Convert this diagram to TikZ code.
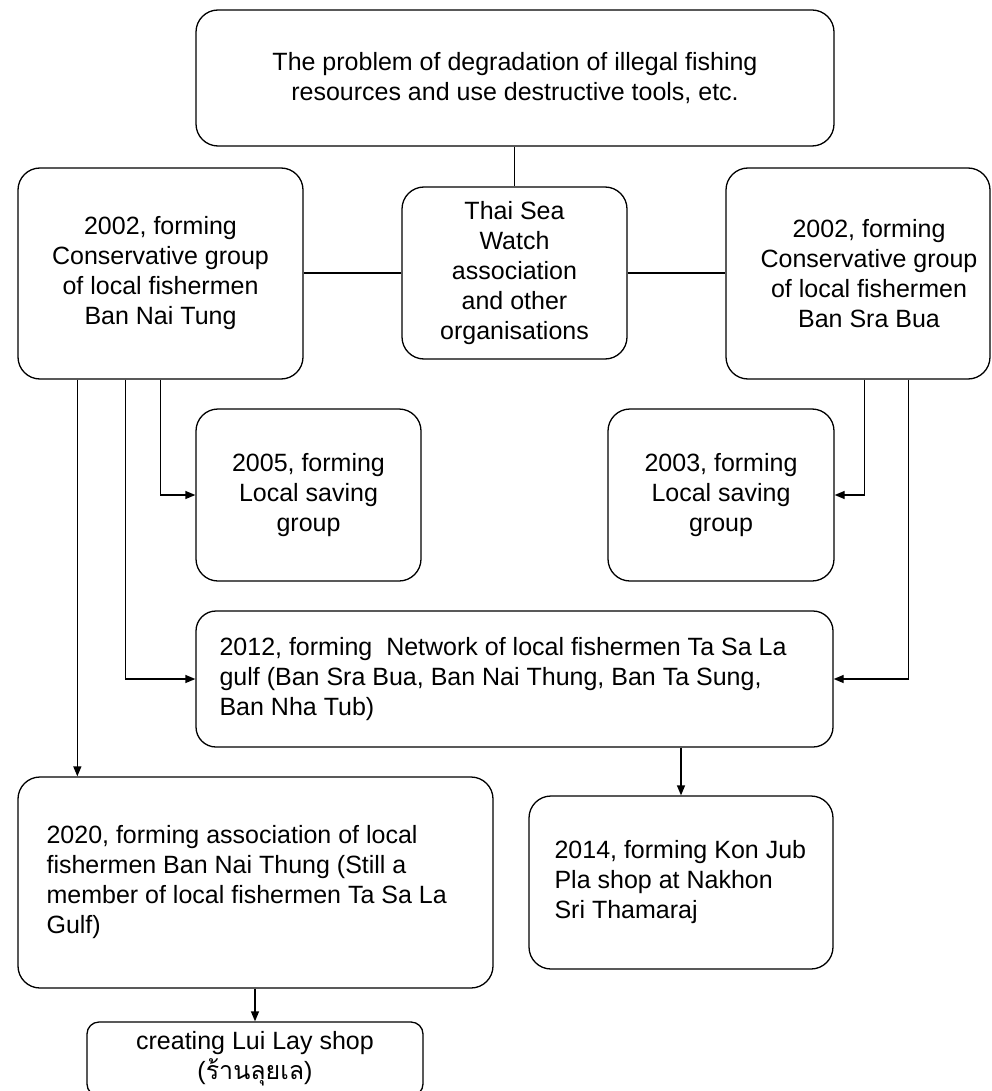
\documentclass[tikz,border=0pt]{standalone}
\usepackage{fontspec}
\setmainfont{Liberation Sans}
\newfontfamily\thaifont[Script=Thai]{Loma}
\usetikzlibrary{arrows.meta,calc}
\tikzset{
  box/.style={draw, line width=1.3pt, rounded corners=22pt, inner sep=0pt, align=center,
              font=\fontsize{25}{30}\selectfont},
  txt/.style={inner sep=0pt, align=left, font=\fontsize{25}{30}\selectfont},
  link/.style={line width=1.3pt},
  arr/.style={line width=1.3pt, -{Triangle[length=10pt,width=8pt]}},
}
\begin{document}
\begin{tikzpicture}[x=1pt,y=-1pt]
\useasboundingbox (0,0) rectangle (992,1091);
\clip (0,0) rectangle (992,1091);

\node[box, minimum width=638pt, minimum height=136pt] (top) at (515,78)
  {The problem of degradation of illegal fishing\\resources and use destructive tools, etc.};

\node[box, minimum width=285pt, minimum height=211pt] (nai) at (160.5,273.5)
  {2002, forming\\Conservative group\\of local fishermen\\Ban Nai Tung};

\node[box, minimum width=225pt, minimum height=172pt] (tsw) at (514.5,273)
  {Thai Sea\\Watch\\association\\and other\\organisations};

\node[box, minimum width=264pt, minimum height=211pt,
  label={[txt, align=center, xshift=11pt]center:2002, forming\\Conservative group\\of local fishermen\\Ban Sra Bua}] (sra) at (858,273.5) {};

\node[box, minimum width=225pt, minimum height=172pt] (s2005) at (308.5,495)
  {2005, forming\\Local saving\\group};

\node[box, minimum width=226pt, minimum height=172pt] (s2003) at (721,495)
  {2003, forming\\Local saving\\group};

\node[box, rounded corners=20pt, minimum width=637pt, minimum height=136pt,
  label={[txt, anchor=west, xshift=24pt]west:2012, forming~~Network of local fishermen Ta Sa La\\gulf (Ban Sra Bua, Ban Nai Thung, Ban Ta Sung,\\Ban Nha Tub)}] (net) at (514.5,679) {};

\node[box, minimum width=475pt, minimum height=211pt,
  label={[txt, anchor=west, xshift=29pt]west:2020, forming association of local\\fishermen Ban Nai Thung (Still a\\member of local fishermen Ta Sa La\\Gulf)}] (a2020) at (255.5,882.5) {};

\node[box, minimum width=304pt, minimum height=173pt,
  label={[txt, anchor=west, xshift=26pt]west:2014, forming Kon Jub\\Pla shop at Nakhon\\Sri Thamaraj}] (k2014) at (681,882.5) {};

\node[box, rounded corners=12pt, minimum width=336pt, minimum height=74pt] (lui) at (255,1059)
  {creating Lui Lay shop\\({\thaifont ร้านลุยเล})};

% connectors
\draw[link] (top.south -| tsw.north) -- (tsw.north);
\draw[link] (tsw.west) -- (nai.east |- tsw.west);
\draw[link] (tsw.east) -- (sra.west |- tsw.east);

\draw[arr] ([xshift=143pt]nai.south west) |- (s2005.west);
\draw[arr] ([xshift=108pt]nai.south west) |- (net.west);
\draw[arr] ([xshift=60pt]nai.south west) -- ([xshift=60pt]nai.south west |- a2020.north);

\draw[arr] ([xshift=139pt]sra.south west) |- (s2003.east);
\draw[arr] ([xshift=183pt]sra.south west) |- (net.east);

\draw[arr] (net.south -| k2014.north) -- (k2014.north);
\draw[arr] (a2020.south -| lui.north) -- (lui.north);
\end{tikzpicture}
\end{document}
